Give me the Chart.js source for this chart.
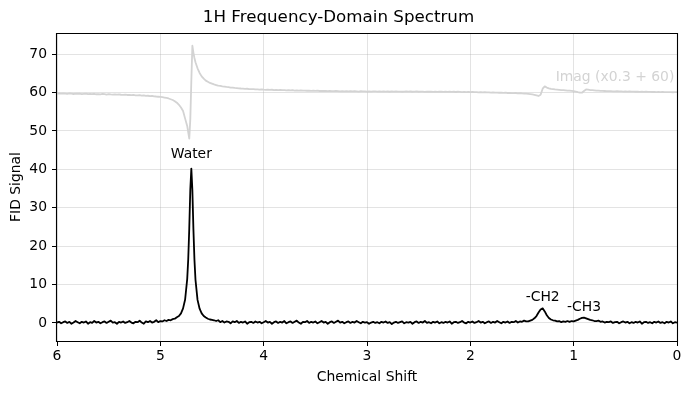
<!DOCTYPE html>
<html><head><meta charset="utf-8">
<script src="https://cdn.jsdelivr.net/npm/chart.js@4"></script>
<style>html,body{margin:0;padding:0;background:#fff}canvas{display:block}</style>
</head><body>
<canvas id="c" width="691" height="393"></canvas>
<script>
const chemicalShift = [
6.00,5.98,5.96,5.94,5.92,5.90,5.88,5.86,5.84,5.82,
5.80,5.78,5.76,5.74,5.72,5.70,5.68,5.66,5.64,5.62,
5.60,5.58,5.56,5.54,5.52,5.50,5.48,5.46,5.44,5.42,
5.40,5.38,5.36,5.34,5.32,5.30,5.28,5.26,5.24,5.22,
5.20,5.18,5.16,5.14,5.12,5.10,5.08,5.06,5.04,5.02,
5.00,4.98,4.96,4.94,4.92,4.90,4.88,4.86,4.84,4.82,
4.80,4.78,4.76,
4.74,4.73,4.72,4.71,4.70,4.69,4.68,4.67,4.66,
4.64,4.62,4.60,4.58,4.56,4.54,4.52,4.50,4.48,4.46,
4.44,4.42,4.40,4.38,4.36,4.34,4.32,4.30,4.28,4.26,
4.24,4.22,4.20,4.18,4.16,4.14,4.12,4.10,4.08,4.06,
4.04,4.02,4.00,3.98,3.96,3.94,3.92,3.90,3.88,3.86,
3.84,3.82,3.80,3.78,3.76,3.74,3.72,3.70,3.68,3.66,
3.64,3.62,3.60,3.58,3.56,3.54,3.52,3.50,3.48,3.46,
3.44,3.42,3.40,3.38,3.36,3.34,3.32,3.30,3.28,3.26,
3.24,3.22,3.20,3.18,3.16,3.14,3.12,3.10,3.08,3.06,
3.04,3.02,3.00,2.98,2.96,2.94,2.92,2.90,2.88,2.86,
2.84,2.82,2.80,2.78,2.76,2.74,2.72,2.70,2.68,2.66,
2.64,2.62,2.60,2.58,2.56,2.54,2.52,2.50,2.48,2.46,
2.44,2.42,2.40,2.38,2.36,2.34,2.32,2.30,2.28,2.26,
2.24,2.22,2.20,2.18,2.16,2.14,2.12,2.10,2.08,2.06,
2.04,2.02,2.00,1.98,1.96,1.94,1.92,1.90,1.88,1.86,
1.84,1.82,1.80,1.78,1.76,1.74,1.72,1.70,1.68,1.66,
1.64,1.62,1.60,1.58,1.56,1.54,1.52,1.50,1.48,1.46,
1.44,1.42,1.40,1.38,1.36,1.34,1.32,1.30,1.28,1.26,
1.24,1.22,1.20,1.18,1.16,1.14,1.12,1.10,1.08,1.06,
1.04,1.02,1.00,0.98,0.96,0.94,0.92,0.90,0.88,0.86,
0.84,0.82,0.80,0.78,0.76,0.74,0.72,0.70,0.68,0.66,
0.64,0.62,0.60,0.58,0.56,0.54,0.52,0.50,0.48,0.46,
0.44,0.42,0.40,0.38,0.36,0.34,0.32,0.30,0.28,0.26,
0.24,0.22,0.20,0.18,0.16,0.14,0.12,0.10,0.08,0.06,
0.04,0.02,0.00
];
const realSignal = [
0.1,0.3,-0.1,0.2,0.4,0.0,0.3,-0.2,0.1,0.5,
0.2,-0.1,0.3,0.1,0.4,-0.2,0.2,0.0,0.5,0.1,
0.3,-0.1,0.2,0.4,0.0,0.3,0.6,0.1,0.2,-0.2,
0.3,0.1,0.4,0.0,0.2,0.5,0.1,-0.1,0.3,0.2,
0.6,0.1,-0.2,0.4,0.2,0.5,0.1,0.3,0.7,0.2,
0.5,0.4,0.7,0.5,0.8,0.7,1.0,1.1,1.5,1.8,
2.5,3.8,6.1,
11.4,16.6,24.6,34.7,40.2,34.6,24.5,16.5,11.3,
6.0,3.7,2.5,1.8,1.4,1.1,0.9,0.8,0.7,0.5,
0.7,0.2,0.5,0.1,0.4,0.3,-0.1,0.4,0.2,0.5,
0.0,0.3,0.1,0.4,-0.2,0.2,0.3,0.0,0.4,0.1,
0.3,-0.1,0.2,0.5,0.1,0.3,-0.2,0.2,0.4,0.0,
0.3,0.1,0.5,-0.1,0.2,0.4,0.0,0.3,0.6,0.1,
-0.2,0.3,0.2,0.5,0.0,0.3,0.1,0.4,-0.1,0.2,
0.5,0.1,0.3,-0.2,0.2,0.4,0.0,0.3,0.6,0.1,
0.3,-0.1,0.2,0.4,0.0,0.3,0.1,0.5,0.2,-0.1,
0.3,0.1,0.2,-0.2,0.1,0.3,0.0,0.2,-0.1,0.3,
0.1,0.4,0.0,0.2,-0.3,0.1,0.3,0.0,0.2,0.4,
-0.1,0.2,0.1,0.3,-0.2,0.2,0.4,0.0,0.3,0.1,
0.5,0.0,0.2,-0.1,0.3,0.1,0.4,-0.1,0.2,0.0,
0.3,0.1,0.4,-0.2,0.2,0.3,0.0,0.2,0.5,0.1,
-0.1,0.3,0.1,0.4,0.0,0.2,0.5,0.1,0.3,-0.1,
0.2,0.4,0.0,0.3,0.1,0.5,0.2,-0.1,0.3,0.1,
0.4,0.0,0.3,0.2,0.5,0.1,0.4,0.3,0.6,0.4,
0.4,0.6,0.8,1.2,1.8,2.7,3.5,3.8,3.0,2.0,
1.3,0.9,0.7,0.6,0.4,0.5,0.2,0.4,0.3,0.5,
0.3,0.5,0.4,0.6,0.8,1.1,1.3,1.4,1.2,1.0,
0.8,0.7,0.5,0.5,0.6,0.3,0.4,0.1,0.3,0.2,
0.4,0.0,0.2,0.3,-0.1,0.2,0.4,0.1,0.3,-0.1,
0.2,0.0,0.3,0.1,0.4,-0.2,0.2,0.3,0.0,0.2,
-0.1,0.3,0.1,0.4,0.0,0.2,-0.1,0.3,0.1,0.4,
-0.1,0.2,0.1
];
const imagSignal = [
59.75,59.8,59.7,59.78,59.72,59.65,59.75,59.7,59.62,59.7,
59.68,59.74,59.6,59.66,59.7,59.58,59.64,59.6,59.68,59.55,
59.6,59.52,59.62,59.56,59.48,59.58,59.5,59.45,59.54,59.46,
59.5,59.42,59.38,59.46,59.36,59.4,59.3,59.36,59.28,59.25,
59.3,59.2,59.24,59.12,59.16,59.05,59.1,59.0,58.96,58.9,
58.85,58.8,58.7,58.6,58.45,58.25,58.05,57.75,57.35,56.8,
56.1,55.2,53.2,
51.3,49.6,48.0,53.0,63.0,72.2,70.4,69.0,67.9,
66.3,65.1,64.2,63.6,63.1,62.8,62.5,62.3,62.1,61.95,
61.8,61.75,61.6,61.55,61.45,61.4,61.3,61.28,61.2,61.15,
61.1,61.05,61.02,60.95,60.98,60.9,60.86,60.9,60.82,60.8,
60.78,60.82,60.74,60.7,60.76,60.68,60.72,60.65,60.7,60.62,
60.66,60.6,60.64,60.58,60.62,60.55,60.6,60.52,60.58,60.5,
60.55,60.48,60.52,60.46,60.5,60.44,60.5,60.42,60.47,60.4,
60.45,60.4,60.44,60.36,60.42,60.38,60.34,60.4,60.35,60.3,
60.38,60.32,60.36,60.3,60.34,60.28,60.35,60.3,60.26,60.33,
60.28,60.32,60.25,60.3,60.22,60.28,60.32,60.24,60.3,60.26,
60.3,60.22,60.27,60.2,60.28,60.24,60.3,60.22,60.26,60.2,
60.25,60.3,60.22,60.27,60.2,60.24,60.28,60.2,60.25,60.22,
60.18,60.25,60.2,60.26,60.18,60.22,60.15,60.24,60.2,60.16,
60.22,60.18,60.24,60.15,60.2,60.14,60.2,60.16,60.12,60.18,
60.12,60.17,60.1,60.14,60.08,60.12,60.05,60.1,60.04,60.08,
60.02,60.06,59.98,60.03,59.96,60.0,59.94,59.98,59.92,59.95,
59.88,59.92,59.86,59.84,59.88,59.8,59.82,59.76,59.74,59.7,
59.66,59.58,59.5,59.4,59.25,59.1,59.4,61.0,61.6,61.3,
61.1,60.95,60.9,60.8,60.75,60.7,60.62,60.6,60.55,60.5,
60.48,60.42,60.36,60.25,60.1,60.0,59.95,60.4,60.8,60.75,
60.65,60.6,60.55,60.5,60.48,60.45,60.42,60.4,60.38,60.36,
60.34,60.32,60.3,60.33,60.28,60.3,60.26,60.28,60.24,60.27,
60.22,60.25,60.2,60.23,60.18,60.21,60.17,60.2,60.15,60.18,
60.14,60.17,60.12,60.15,60.1,60.14,60.09,60.12,60.08,60.11,
60.07,60.1,60.08
];
const xTicks = [6, 5, 4, 3, 2, 1, 0];
const yTicks = [0, 10, 20, 30, 40, 50, 60, 70];
const annotationText = ['Water', '-CH2', '-CH3', 'Imag (x0.3 + 60)'];
const annotationX = [4.70, 1.30, 0.90, 0.60];
const annotationY = [43.8, 6.6, 4.0, 64.0];

const FONT = "'DejaVu Sans', sans-serif";
const FS = 13.9;

const annoPlugin = {
  id: 'anno',
  afterDatasetsDraw(chart) {
    const {ctx, scales: {x, y}} = chart;
    ctx.save();
    ctx.font = FS + 'px ' + FONT;
    ctx.textAlign = 'center';
    ctx.textBaseline = 'middle';
    annotationText.forEach((t, i) => {
      ctx.fillStyle = i === 3 ? '#d3d3d3' : '#000';
      ctx.fillText(t, x.getPixelForValue(annotationX[i]), y.getPixelForValue(annotationY[i]));
    });
    ctx.restore();
  }
};
const framePlugin = {
  id: 'frame',
  afterDraw(chart) {
    const a = chart.chartArea, ctx = chart.ctx;
    const l = Math.round(a.left) - 0.5, r = Math.round(a.right) + 0.5;
    const t = Math.round(a.top) + 0.5, b = Math.round(a.bottom) + 0.5;
    ctx.save();
    ctx.strokeStyle = '#000';
    ctx.lineWidth = 1.1;
    ctx.beginPath();
    ctx.moveTo(l, t); ctx.lineTo(r, t); ctx.lineTo(r, b); ctx.lineTo(l, b); ctx.closePath();
    ctx.stroke();
    ctx.restore();
  }
};

new Chart(document.getElementById('c'), {
  type: 'line',
  data: {
    datasets: [
      {data: chemicalShift.map((v, i) => ({x: v, y: realSignal[i]})),
       borderColor: '#000', borderWidth: 1.8, pointRadius: 0, tension: 0, borderJoinStyle: 'round', order: 1},
      {data: chemicalShift.map((v, i) => ({x: v, y: imagSignal[i]})),
       borderColor: '#d3d3d3', borderWidth: 1.8, pointRadius: 0, tension: 0, borderJoinStyle: 'round', order: 2}
    ]
  },
  options: {
    responsive: false, animation: false, devicePixelRatio: 1,
    layout: {padding: {left: 0, right: 14, top: 0, bottom: 0}},
    plugins: {
      legend: {display: false}, tooltip: {enabled: false},
      title: {display: true, text: '1H Frequency-Domain Spectrum', color: '#000',
        font: {family: FONT, size: 16.7, weight: 'normal'}, padding: {top: 8, bottom: 4.96}}
    },
    scales: {
      x: {
        type: 'linear', reverse: true, min: 0, max: 6,
        afterBuildTicks: s => { s.ticks = xTicks.map(v => ({value: v})); },
        afterFit: s => { s.height = 52; },
        grid: {color: 'rgba(176,176,176,0.35)', lineWidth: 1, tickColor: '#000', tickLength: 5, drawTicks: true},
        border: {display: false},
        ticks: {color: '#000', font: {family: FONT, size: FS}, padding: 2, maxRotation: 0, autoSkip: false},
        title: {display: true, text: 'Chemical Shift', color: '#000', font: {family: FONT, size: FS}, padding: {top: 0, bottom: 7}}
      },
      y: {
        type: 'linear', min: -4.7, max: 75.5,
        afterBuildTicks: s => { s.ticks = yTicks.map(v => ({value: v})); },
        afterFit: s => { s.width = 57; },
        grid: {color: 'rgba(176,176,176,0.35)', lineWidth: 1, tickColor: '#000', tickLength: 5, drawTicks: true},
        border: {display: false},
        ticks: {color: '#000', font: {family: FONT, size: FS}, padding: 5, autoSkip: false},
        title: {display: true, text: 'FID Signal', color: '#000', font: {family: FONT, size: FS}, padding: {top: 7.7, bottom: 0}}
      }
    }
  },
  plugins: [annoPlugin, framePlugin]
});
</script>
</body></html>
